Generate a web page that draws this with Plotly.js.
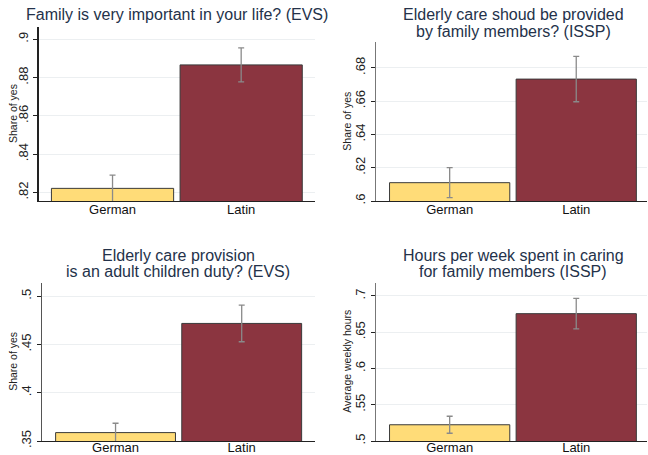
<!DOCTYPE html>
<html>
<head>
<meta charset="utf-8">
<script src="https://cdn.plot.ly/plotly-3.0.1.min.js"></script>
<style>html,body{margin:0;padding:0;background:#fff;}#chart{width:648px;height:455px;}</style>
</head>
<body>
<div id="chart"></div>
<script>
// ---- data ----
const categories = ["German", "Latin"];
const titleLines = [
  ["Family is very important in your life? (EVS)"],
  ["Elderly care shoud be provided", "by family members? (ISSP)"],
  ["Elderly care provision", "is an adult children duty? (EVS)"],
  ["Hours per week spent in caring", "for family members (ISSP)"]
];
const yTitles = ["Share of yes", "Share of yes", "Share of yes", "Average weekly hours"];
const familyImportant = [0.8221, 0.8866];
const familyImportantErr = [0.0069, 0.0089];
const careByFamily = [0.611, 0.6732];
const careByFamilyErr = [0.009, 0.0136];
const childrenDuty = [0.3587, 0.4718];
const childrenDutyErr = [0.0097, 0.0190];
const weeklyHours = [0.5224, 0.6756];
const weeklyHoursErr = [0.0117, 0.0210];
const tickVals1 = [0.82, 0.84, 0.86, 0.88, 0.9];
const tickText1 = [".82", ".84", ".86", ".88", ".9"];
const tickVals2 = [0.6, 0.62, 0.64, 0.66, 0.68];
const tickText2 = [".6", ".62", ".64", ".66", ".68"];
const tickVals3 = [0.35, 0.4, 0.45, 0.5];
const tickText3 = [".35", ".4", ".45", ".5"];
const tickVals4 = [0.5, 0.55, 0.6, 0.65, 0.7];
const tickText4 = [".5", ".55", ".6", ".65", ".7"];

const series = [familyImportant, careByFamily, childrenDuty, weeklyHours];
const errs = [familyImportantErr, careByFamilyErr, childrenDutyErr, weeklyHoursErr];
const tvals = [tickVals1, tickVals2, tickVals3, tickVals4];
const ttext = [tickText1, tickText2, tickText3, tickText4];

// ---- layout geometry (pixels) ----
const W = 648, H = 455;
const panels = [
  {x0: 38.7, x1: 315, y0: 27, y1: 201, xr: [-0.574, 1.574], yr: [0.8155, 0.9064], ycol: '#222', tx: 177, ty: 15, yt: 13, so: -4},
  {x0: 376, x1: 647, y0: 42.3, y1: 201, xr: [-0.582, 1.559], yr: [0.6, 0.6953], ycol: '#777', tx: 513, ty: 15, yt: 347, so: -4},
  {x0: 42, x1: 315, y0: 282.7, y1: 441, xr: [-0.583, 1.581], yr: [0.35, 0.514], ycol: '#555', tx: 178, ty: 255, yt: 13, so: -6},
  {x0: 376, x1: 647, y0: 282.7, y1: 441, xr: [-0.582, 1.559], yr: [0.5, 0.7183], ycol: '#777', tx: 513, ty: 255, yt: 347, so: -6}
];
const lineGap = 16.7;

const data = [];
const layout = {
  width: W, height: H,
  margin: {l: 0, r: 0, t: 0, b: 0},
  paper_bgcolor: '#fff', plot_bgcolor: '#fff',
  showlegend: false,
  annotations: []
};
const fontFam = 'Liberation Sans, Arial, sans-serif';

panels.forEach((p, i) => {
  const n = i + 1;
  const xa = 'x' + (n === 1 ? '' : n), ya = 'y' + (n === 1 ? '' : n);
  data.push({
    type: 'bar', x: [0, 1], y: series[i], xaxis: xa, yaxis: ya, width: 0.95,
    marker: {color: ['#ffdc78', '#8b3540'], line: {color: '#3a3a3a', width: 1}},
    error_y: {type: 'data', array: errs[i], visible: true, color: '#8a8a8a', thickness: 1.3, width: 3},
    hoverinfo: 'none'
  });
  layout['xaxis' + (n === 1 ? '' : n)] = {
    domain: [p.x0 / W, p.x1 / W], range: p.xr, anchor: ya,
    tickvals: [0, 1], ticktext: categories, ticks: '',
    ticklabelstandoff: p.so,
    showline: true, linecolor: '#222', linewidth: 1.2,
    showgrid: false, zeroline: false,
    tickfont: {family: fontFam, size: 13, color: '#111'}
  };
  layout['yaxis' + (n === 1 ? '' : n)] = {
    domain: [1 - p.y1 / H, 1 - p.y0 / H], range: p.yr, anchor: xa,
    tickvals: tvals[i], ticktext: ttext[i], tickangle: -90,
    ticks: 'outside', ticklen: 4, tickcolor: '#222', tickwidth: 1,
    showline: true, linecolor: p.ycol, linewidth: 1.5,
    showgrid: true, gridcolor: '#eceff1', gridwidth: 1, zeroline: false,
    tickfont: {family: fontFam, size: 13, color: '#222'}
  };
  titleLines[i].forEach((t, k) => {
    layout.annotations.push({
      xref: 'paper', yref: 'paper', x: p.tx / W, y: 1 - (p.ty + k * lineGap) / H,
      text: t, showarrow: false, xanchor: 'center', yanchor: 'middle',
      font: {family: fontFam, size: 16, color: '#24324a'}
    });
  });
  layout.annotations.push({
    xref: 'paper', yref: 'paper', x: p.yt / W, y: 1 - ((p.y0 + p.y1) / 2) / H,
    text: yTitles[i], showarrow: false, textangle: -90, xanchor: 'center', yanchor: 'middle',
    font: {family: fontFam, size: 10.5, color: '#222'}
  });
});

Plotly.newPlot('chart', data, layout, {staticPlot: true, displayModeBar: false});
</script>
</body>
</html>
